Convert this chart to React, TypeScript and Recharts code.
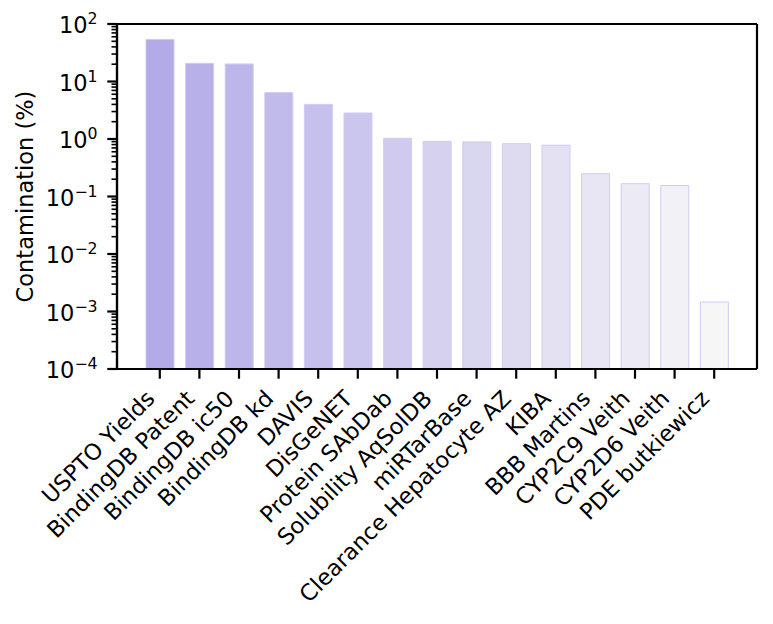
import { BarChart, Bar, XAxis, YAxis, Cell, CartesianGrid } from 'recharts';

const CATEGORIES = [
  'USPTO Yields',
  'BindingDB Patent',
  'BindingDB ic50',
  'BindingDB kd',
  'DAVIS',
  'DisGeNET',
  'Protein SAbDab',
  'Solubility AqSolDB',
  'miRTarBase',
  'Clearance Hepatocyte AZ',
  'KIBA',
  'BBB Martins',
  'CYP2C9 Veith',
  'CYP2D6 Veith',
  'PDE butkiewicz',
];

// contamination in %
const CONTAMINATION = [54, 20.7, 20.2, 6.4, 4.0, 2.83, 1.03, 0.91, 0.89, 0.83, 0.78, 0.249, 0.167, 0.155, 0.00146];

const Y_EXPONENTS = [-4, -3, -2, -1, 0, 1, 2];
const MINOR_STEPS = [2, 3, 4, 5, 6, 7, 8, 9];

const FONT = '"DejaVu Sans", sans-serif';
const FONT_SIZE = 22.5;
const BAR_START = [179, 171, 231];
const BAR_END = [246, 246, 247];
const BAR_EDGE = '#d2caf3';

const majorTicks = Y_EXPONENTS.map((e) => Math.pow(10, e));
const minorTicks = Y_EXPONENTS.slice(0, -1).flatMap((e) => MINOR_STEPS.map((m) => m * Math.pow(10, e)));

const data = CATEGORIES.map((name, i) => ({ name, value: CONTAMINATION[i] }));

function barColor(i: number) {
  const t = i / (CATEGORIES.length - 1);
  const c = BAR_START.map((s, k) => Math.round(s + (BAR_END[k] - s) * t));
  return `rgb(${c[0]},${c[1]},${c[2]})`;
}

function YTick({ x, y, payload }: any) {
  const v = payload.value as number;
  const exp = Math.round(Math.log10(v));
  const major = Math.abs(Math.log10(v) - exp) < 1e-6;
  if (!major) {
    return <line x1={x - 5.5} x2={x} y1={y} y2={y} stroke="#000" strokeWidth={1.6} />;
  }
  const expText = exp < 0 ? `\u2212${-exp}` : `${exp}`;
  return (
    <g>
      <line x1={x - 9.7} x2={x} y1={y} y2={y} stroke="#000" strokeWidth={2.2} />
      <text x={x - 19.4} y={y + 9} textAnchor="end" fontSize={FONT_SIZE} fontFamily={FONT} fill="#000">
        10
        <tspan dy={-9} fontSize={FONT_SIZE * 0.7}>
          {expText}
        </tspan>
      </text>
    </g>
  );
}

function XTick({ x, y, payload }: any) {
  const tx = x - 3.7;
  const ty = y + 31;
  return (
    <g>
      <line x1={x} x2={x} y1={y} y2={y + 9.7} stroke="#000" strokeWidth={2.2} />
      <text
        x={tx}
        y={ty}
        textAnchor="end"
        transform={`rotate(-45 ${tx} ${ty})`}
        fontSize={FONT_SIZE}
        fontFamily={FONT}
        fill="#000"
      >
        {payload.value}
      </text>
    </g>
  );
}

function YTitle({ viewBox }: any) {
  const cx = 33;
  const cy = viewBox.y + viewBox.height / 2;
  return (
    <text
      x={cx}
      y={cy}
      textAnchor="middle"
      transform={`rotate(-90 ${cx} ${cy})`}
      fontSize={FONT_SIZE}
      fontFamily={FONT}
      fill="#000"
    >
      Contamination (%)
    </text>
  );
}

export default function App() {
  return (
    <div style={{ position: 'absolute', left: 0, top: 0, background: '#fff' }}>
      <BarChart width={773} height={624} data={data} margin={{ top: 24, right: 16, bottom: 55, left: 17 }}>
        {/* frame: top and right spines */}
        <CartesianGrid
          stroke="#000"
          strokeWidth={2.2}
          fill="none"
          horizontalCoordinatesGenerator={({ offset }: any) => [offset.top, offset.top + offset.height]}
          verticalCoordinatesGenerator={({ offset }: any) => [offset.left, offset.left + offset.width]}
        />
        <XAxis
          dataKey="name"
          height={200}
          padding={{ left: 23, right: 23 }}
          interval={0}
          tickSize={0}
          tickMargin={0}
          tickLine={false}
          axisLine={{ stroke: '#000', strokeWidth: 2.2 }}
          tick={<XTick />}
        />
        <YAxis
          type="number"
          scale="log"
          domain={[1e-4, 100]}
          allowDataOverflow
          ticks={[...majorTicks, ...minorTicks]}
          interval={0}
          width={100}
          tickSize={0}
          tickMargin={0}
          tickLine={false}
          axisLine={{ stroke: '#000', strokeWidth: 2.2 }}
          tick={<YTick />}
          label={<YTitle />}
        />
        <Bar dataKey="value" barSize={28} isAnimationActive={false} strokeWidth={1}>
          {data.map((d, i) => (
            <Cell key={d.name} fill={barColor(i)} stroke={BAR_EDGE} />
          ))}
        </Bar>
      </BarChart>
    </div>
  );
}
